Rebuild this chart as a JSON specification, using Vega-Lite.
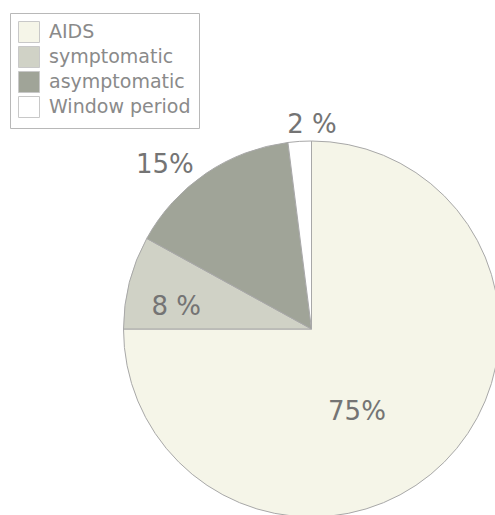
{
  "$schema": "https://vega.github.io/schema/vega-lite/v6.json",
  "width": 623,
  "height": 658,
  "padding": 0,
  "background": "#ffffff",
  "config": {"view": {"stroke": null}, "font": "DejaVu Sans"},
  "data": {"values": [
    {"category": "AIDS", "value": 75, "idx": 1, "label": "75%"},
    {"category": "symptomatic", "value": 8, "idx": 2, "label": "8 %"},
    {"category": "asymptomatic", "value": 15, "idx": 3, "label": "15%"},
    {"category": "Window period", "value": 2, "idx": 4, "label": "2 %"}
  ]},
  "encoding": {
    "theta": {"field": "value", "type": "quantitative", "stack": true},
    "order": {"field": "idx", "type": "quantitative"}
  },
  "layer": [
    {
      "mark": {"type": "arc", "radius": 188, "stroke": "#a8a8a8", "strokeWidth": 1},
      "encoding": {
        "color": {
          "field": "category", "type": "nominal",
          "scale": {"domain": ["AIDS", "symptomatic", "asymptomatic", "Window period"],
                    "range": ["#f5f5e8", "#d0d2c6", "#a0a498", "#ffffff"]},
          "legend": {
            "title": null, "orient": "none", "legendX": 10, "legendY": 13,
            "padding": 8, "strokeColor": "#b8b8b8", "fillColor": "#ffffff",
            "symbolType": "square", "symbolSize": 441, "symbolStrokeColor": "#c8c8c8",
            "symbolStrokeWidth": 1, "labelFontSize": 19, "labelColor": "#8a8a8a",
            "labelOffset": 9, "rowPadding": -1, "labelFont": "DejaVu Sans"
          }
        }
      }
    },
    {
      "mark": {"type": "text", "radius": 204, "thetaOffset": 0.065, "fontSize": 26, "color": "#747474"},
      "encoding": {"text": {"condition": {"test": "datum.category === 'Window period'", "field": "label"}, "value": ""}}
    },
    {
      "mark": {"type": "text", "radius": 220, "thetaOffset": -0.133, "fontSize": 26, "color": "#747474"},
      "encoding": {"text": {"condition": {"test": "datum.category === 'asymptomatic'", "field": "label"}, "value": ""}}
    },
    {
      "mark": {"type": "text", "radius": 137, "thetaOffset": -0.091, "fontSize": 26, "color": "#747474"},
      "encoding": {"text": {"condition": {"test": "datum.category === 'symptomatic'", "field": "label"}, "value": ""}}
    },
    {
      "mark": {"type": "text", "radius": 94.6, "thetaOffset": 0.284, "fontSize": 26, "color": "#747474"},
      "encoding": {"text": {"condition": {"test": "datum.category === 'AIDS'", "field": "label"}, "value": ""}}
    }
  ]
}
